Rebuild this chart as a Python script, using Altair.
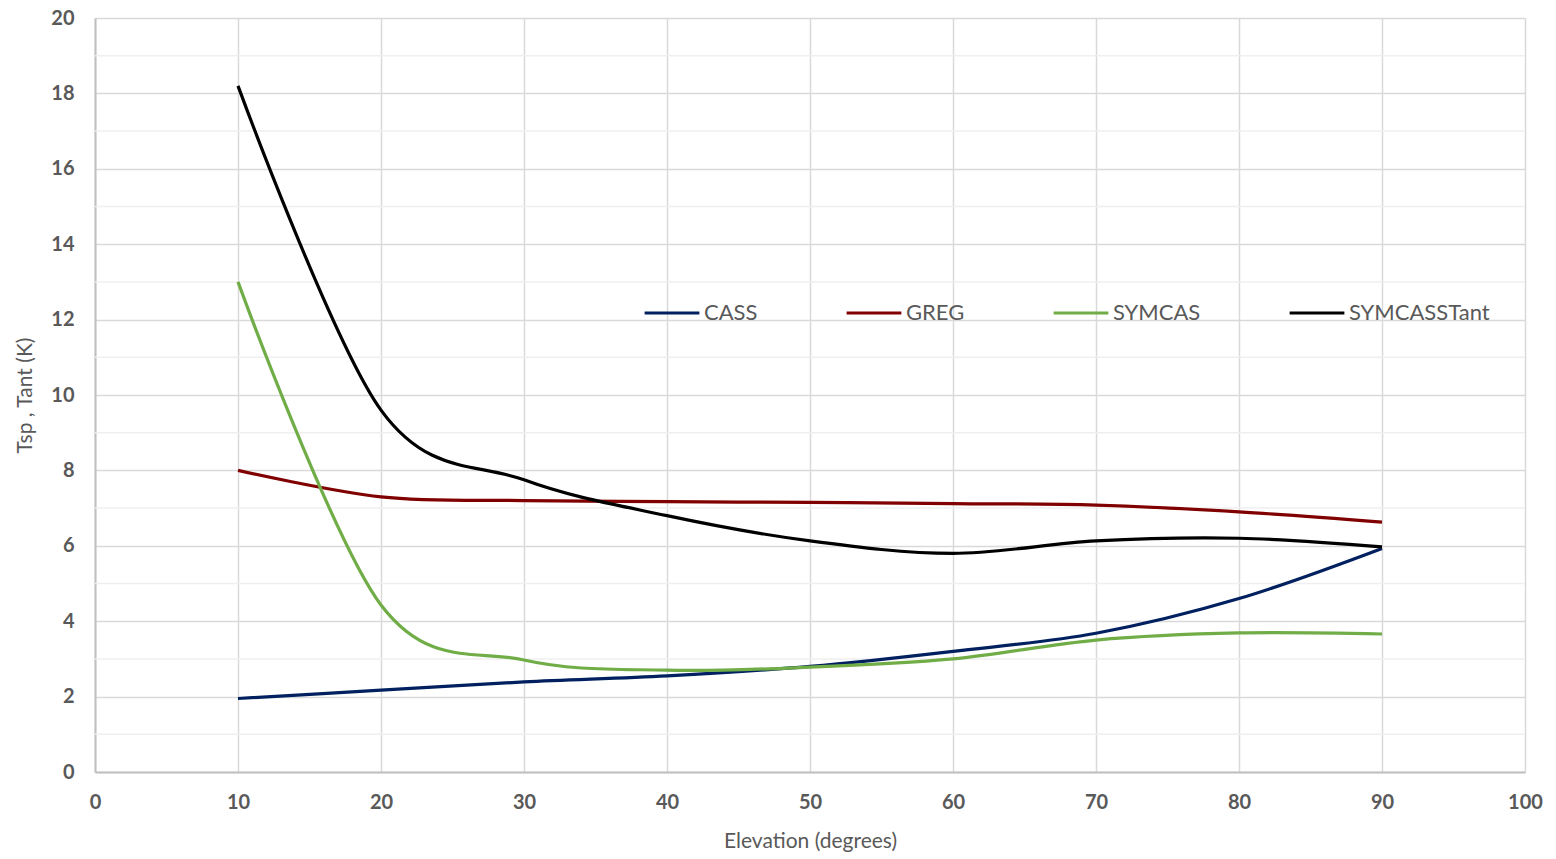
import altair as alt
import pandas as pd

# Data
elevation = [10, 20, 30, 40, 50, 60, 70, 80, 90]
cass = [1.95, 2.17, 2.39, 2.55, 2.80, 3.20, 3.68, 4.60, 5.93]
greg = [8.00, 7.30, 7.20, 7.17, 7.15, 7.12, 7.08, 6.90, 6.63]
symcas = [13.0, 4.43, 2.97, 2.70, 2.78, 3.00, 3.50, 3.69, 3.66]
symcasstant = [18.2, 9.60, 7.75, 6.80, 6.13, 5.80, 6.13, 6.20, 5.97]

series_names = ["CASS", "GREG", "SYMCAS", "SYMCASSTant"]
series_colors = ["#002060", "#800000", "#70AD47", "#000000"]

x_ticks = [0, 10, 20, 30, 40, 50, 60, 70, 80, 90, 100]
y_ticks = [0, 2, 4, 6, 8, 10, 12, 14, 16, 18, 20]
y_minor = [1, 3, 5, 7, 9, 11, 13, 15, 17, 19]

rows = []
for name, vals in zip(series_names, [cass, greg, symcas, symcasstant]):
    for e, v in zip(elevation, vals):
        rows.append({"Elevation": e, "Value": v, "Series": name})
df = pd.DataFrame(rows)
minor_df = pd.DataFrame({"Value": y_minor})

W, H = 1430, 754

x_scale = alt.Scale(domain=[0, 100], nice=False)
y_scale = alt.Scale(domain=[0, 20], nice=False)

y_axis = alt.Axis(
    values=y_ticks,
    title="Tsp , Tant (K)",
    grid=True,
    ticks=False,
    labelPadding=21,
    titlePadding=15,
)

minor = alt.Chart(minor_df).mark_rule(color="#efefef", strokeWidth=1.5).encode(
    y=alt.Y("Value:Q", scale=y_scale, axis=y_axis)
)

lines = alt.Chart(df).mark_line(
    strokeWidth=3.2, interpolate="cardinal", tension=0
).encode(
    x=alt.X(
        "Elevation:Q",
        scale=x_scale,
        axis=alt.Axis(
            values=x_ticks,
            title="Elevation (degrees)",
            grid=True,
            ticks=False,
            labelFlush=False,
            labelPadding=20,
            titlePadding=18,
        ),
    ),
    y=alt.Y("Value:Q", scale=y_scale, axis=y_axis),
    color=alt.Color(
        "Series:N",
        scale=alt.Scale(domain=series_names, range=series_colors),
        legend=alt.Legend(
            title=None,
            orient="none",
            direction="horizontal",
            legendX=548,
            legendY=266,
            symbolType="stroke",
            symbolSize=3000,
            symbolStrokeWidth=3,
            labelFontSize=22,
            labelFont="Lato",
            labelColor="#595959",
            labelOffset=3,
            columnPadding=82,
            labelLimit=400,
        ),
    ),
)

chart = (
    alt.layer(minor, lines)
    .properties(
        width=W,
        height=H,
        autosize=alt.AutoSizeParams(type="none"),
        padding={"left": 95, "top": 18, "right": 31, "bottom": 87},
    )
    .configure_view(stroke=None)
    .configure_axis(
        gridColor="#d9d9d9",
        gridWidth=1.5,
        domainColor="#bfbfbf",
        domainWidth=2,
        labelFont="Lato",
        labelFontWeight="bold",
        labelFontSize=20,
        labelColor="#595959",
        titleFont="Lato",
        titleFontWeight="normal",
        titleFontSize=21,
        titleColor="#595959",
    )
)

chart.save("out.html", embed_options={"renderer": "svg", "actions": False})
